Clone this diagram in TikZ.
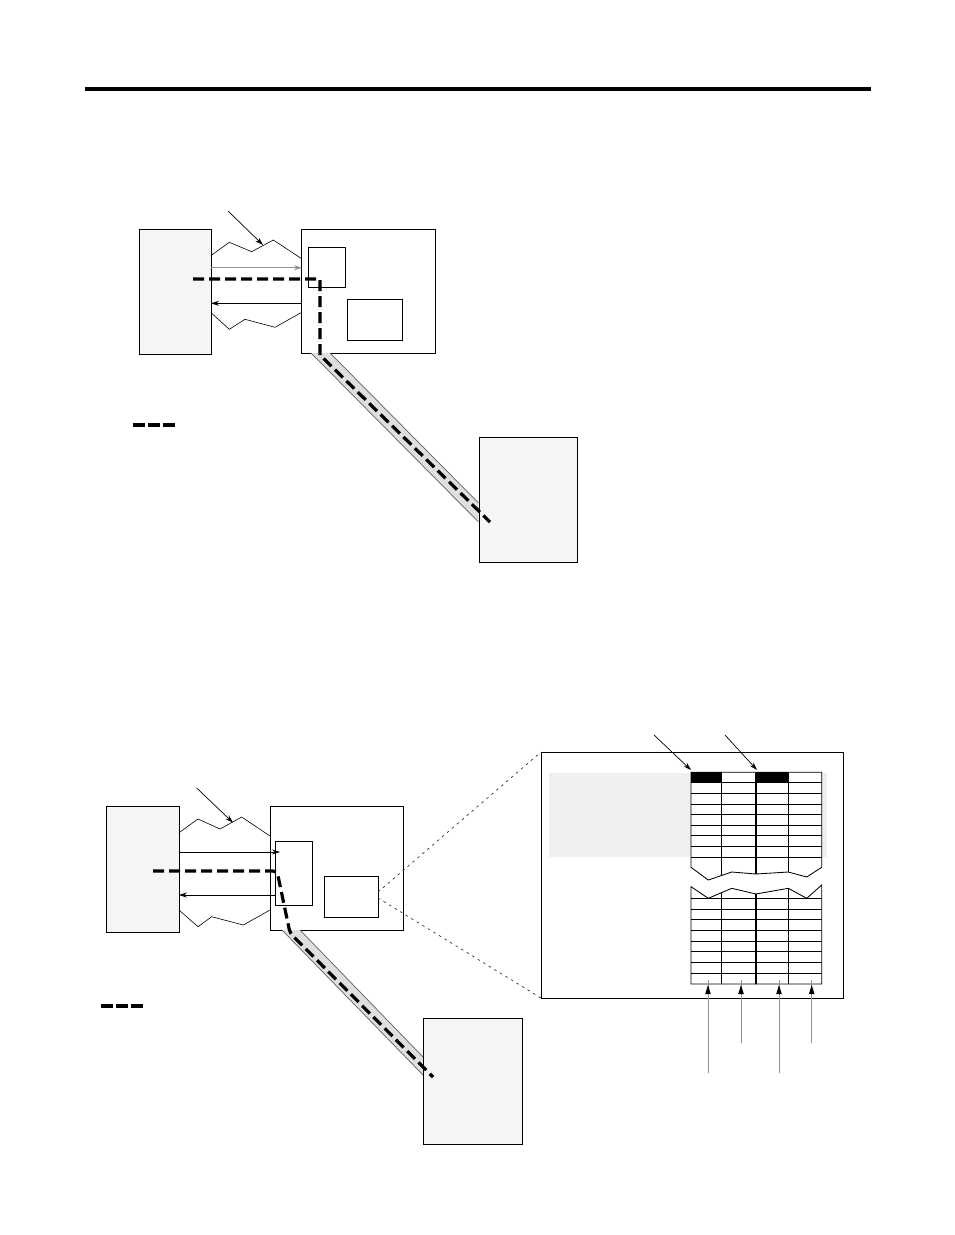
\documentclass[tikz,border=0pt]{standalone}
\usetikzlibrary{arrows.meta}
\definecolor{boxgray}{HTML}{F4F5F4}
\definecolor{shadegray}{HTML}{EFF0EF}
\definecolor{cablefill}{HTML}{DEDFDE}
\definecolor{cableedge}{HTML}{5E5E5E}
\definecolor{arrgray}{HTML}{909090}
\begin{document}
\begin{tikzpicture}[x=1pt,y=-1pt,
  box/.style={draw=black,line width=0.9pt,inner sep=0pt,outer sep=0pt,anchor=north west},
  graybox/.style={box,fill=boxgray},
  zig/.style={draw=black,line width=0.6pt},
  thinarrow/.style={line width=0.7pt,-{Stealth[length=8pt,width=5pt]}},
  grayarrow/.style={thinarrow,draw=arrgray,line width=1pt},
  route/.style={line width=3.2pt,dash pattern=on 11pt off 5pt,line join=round},
  legendline/.style={line width=3.2pt,dash pattern=on 12pt off 3pt},
  cable/.style={fill=cablefill,draw=none},
  cableside/.style={draw=cableedge,line width=0.7pt},
  zoomline/.style={line width=0.7pt,draw=black!80,dash pattern=on 2.5pt off 4pt},
  cell/.style={line width=0.85pt},
]
\useasboundingbox (0,0) rectangle (954,1235);
\fill[white] (0,0) rectangle (954,1235);

% top rule
\coordinate (ruleL) at (85,89);
\coordinate (ruleR) at (871,89);
\draw[line width=3.5pt] (ruleL) -- (ruleR);

%================ Diagram 1 ================
\node[graybox,minimum width=72pt,minimum height=125pt] (lbox1) at (139,229) {};
\node[box,minimum width=134pt,minimum height=124pt] (rbox1) at (301,229) {};
\node[box,minimum width=37pt,minimum height=40pt] (inA1) at (308,247) {};
\node[box,minimum width=55pt,minimum height=41pt] (inB1) at (347,299) {};
% link zigzags
\draw[zig] (211.7,255) -- (229.3,242.3) -- (251.7,251.7) -- (273.3,240) -- (301,258.3);
\draw[zig] (211.7,313.3) -- (229.3,329.3) -- (245,319.3) -- (275,327.3) -- (301,312.7);
\coordinate (pt1s) at (228,211);
\coordinate (pt1e) at (263,245);
\draw[thinarrow] (pt1s) -- (pt1e);
\coordinate (ya1) at (0,267.7);
\coordinate (yb1) at (0,303.3);
\draw[grayarrow] (lbox1.east |- ya1) -- ([xshift=1pt]rbox1.west |- ya1);
\draw[thinarrow] (rbox1.west |- yb1) -- (lbox1.east |- yb1);
% cable
\fill[cable] (311,353) -- (330,353) -- (478.5,503) -- (478.5,522) -- cycle;
\draw[cableside] (311,353) -- (478.5,522);
\draw[cableside] (330,353) -- (478.5,503);
\node[graybox,minimum width=98pt,minimum height=125pt] (bbox1) at (479,437) {};
% route
\coordinate (r1a) at (193,279);
\coordinate (r1b) at (320,279);
\coordinate (r1c) at (320,355);
\coordinate (r1d) at (490,522);
\draw[route] (r1a) -- (r1b) -- (r1c) -- (r1d);
% legend
\coordinate (lg1a) at (133,425);
\coordinate (lg1b) at (175,425);
\draw[legendline] (lg1a) -- (lg1b);

%================ Diagram 2 ================
\node[graybox,minimum width=73pt,minimum height=126pt] (lbox2) at (106,806) {};
\node[box,minimum width=133pt,minimum height=124pt] (rbox2) at (270,806) {};
\node[box,minimum width=37pt,minimum height=64pt] (inA2) at (275,841) {};
\node[box,minimum width=54pt,minimum height=41pt] (inB2) at (324,876) {};
\draw[zig] (179,832.7) -- (198,819) -- (220,829) -- (241.7,817) -- (270,836);
\draw[zig] (179,910) -- (198,926.7) -- (211.7,916.7) -- (243.3,925) -- (270,910);
\coordinate (pt2s) at (196.7,788);
\coordinate (pt2e) at (233,822.7);
\draw[thinarrow] (pt2s) -- (pt2e);
\coordinate (ya2) at (0,852);
\coordinate (yb2) at (0,895);
\draw[thinarrow] (lbox2.east |- ya2) -- ([xshift=5pt]inA2.west |- ya2);
\draw[thinarrow] (inA2.west |- yb2) -- (lbox2.east |- yb2);
% cable
\fill[cable] (282,930) -- (300,930) -- (423,1057) -- (423,1075) -- cycle;
\draw[cableside] (282,930) -- (423,1075);
\draw[cableside] (300,930) -- (423,1057);
\node[graybox,minimum width=99pt,minimum height=126pt] (bbox2) at (423,1018) {};
% route
\coordinate (r2a) at (153,871);
\coordinate (r2b) at (277,871);
\coordinate (r2c) at (290,933);
\coordinate (r2d) at (433,1077);
\draw[route,rounded corners=4pt] (r2a) -- (r2b) -- (r2c) -- (r2d);
% legend
\coordinate (lg2a) at (101,1006);
\coordinate (lg2b) at (143,1006);
\draw[legendline] (lg2a) -- (lg2b);

% enlarged view
\node[box,minimum width=302pt,minimum height=246pt] (big) at (541,752) {};
\fill[shadegray] (549,772.7) rectangle (826.7,856.7);
\draw[zoomline] (inB2.east |- 0,892) -- (big.north west);
\draw[zoomline] (inB2.east |- 0,898) -- (big.south west);

% table upper part
\def\upper{(691,772.3) -- (821.7,772.3) -- (821.7,867.3) -- (806.7,877) -- (788.3,872) -- (756,874) -- (731.7,872) -- (708.3,880) -- (691,867.3) -- cycle}
\def\lower{(691,886.7) -- (708.3,898.3) -- (731.7,888.3) -- (756,894) -- (788.3,888.3) -- (806.7,898.3) -- (821.7,885) -- (821.7,984) -- (691,984) -- cycle}
\fill[white] \upper;
\fill[white] \lower;
\fill[black] (691,772.3) rectangle (721.7,782.9);
\fill[black] (756,772.3) rectangle (788.3,782.9);
\begin{scope}
  \clip \upper;
  \foreach \k in {1,...,8} \draw[cell] (691,772.3+10.6*\k) -- (821.7,772.3+10.6*\k);
  \draw[cell] (721.7,772) -- (721.7,885);
  \draw[cell] (788.3,772) -- (788.3,885);
  \draw[line width=2pt] (756,772) -- (756,885);
\end{scope}
\draw[cell,line join=miter] \upper;
\begin{scope}
  \clip \lower;
  \foreach \k in {0,...,7} \draw[cell] (691,898.3+10.7*\k) -- (821.7,898.3+10.7*\k);
  \draw[cell] (721.7,880) -- (721.7,985);
  \draw[cell] (788.3,880) -- (788.3,985);
  \draw[line width=2pt] (756,880) -- (756,985);
\end{scope}
\draw[cell,line join=miter] \lower;
\coordinate (tabTL) at (691,770);
\coordinate (tabTC) at (757,770);
% pointer arrows above
\coordinate (pa1) at (654,735);
\coordinate (pa2) at (725,735);
\draw[thinarrow] (pa1) -- (tabTL);
\draw[thinarrow] (pa2) -- (tabTC);
% pointer arrows below
\foreach \x/\yb [count=\i] in {708/1073,741/1043,779/1073,811.7/1043}{
  \coordinate (ub\i) at (\x,\yb);
  \coordinate (ut\i) at (\x,985);
  \draw[line width=1pt,draw=arrgray] (ub\i) -- ([yshift=5pt]ut\i);
  \fill[black] (ut\i) -- ++(-2.8,9) -- ++(5.6,0) -- cycle;
}
\end{tikzpicture}
\end{document}
